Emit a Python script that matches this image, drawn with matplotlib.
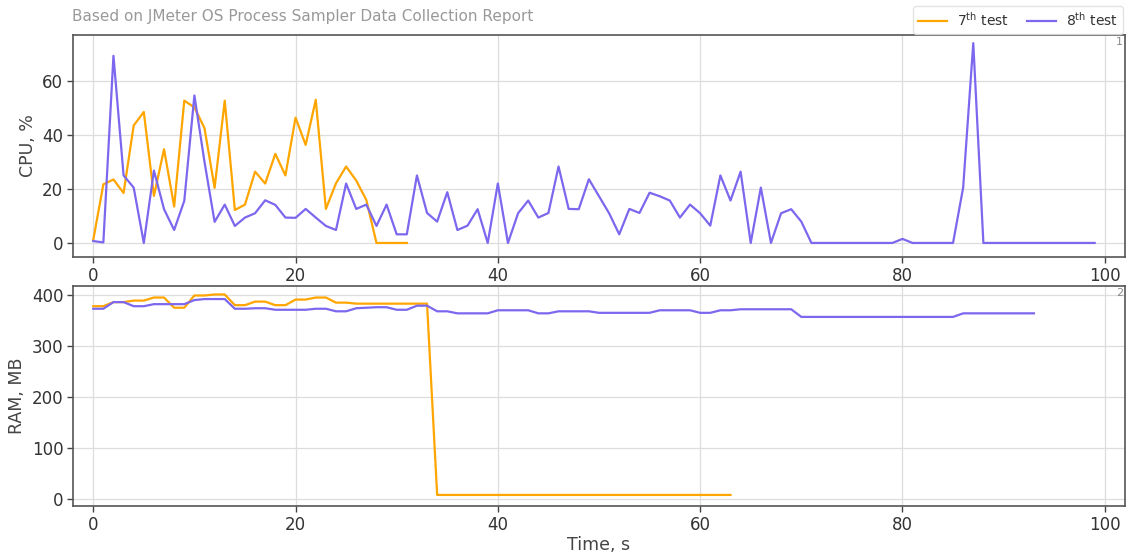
import matplotlib
matplotlib.use("Agg")
import matplotlib.pyplot as plt
import numpy as np

cpu_7 = [1.1, 21.7, 23.5, 18.5, 43.5, 48.5, 17.4, 34.7, 13.5, 52.7, 50.2, 42.5, 20.4, 52.7, 12.2, 14.2,
         26.4, 22.0, 33.0, 25.0, 46.4, 36.3, 53.0, 12.6, 22.1, 28.3, 23.1, 15.9, 0, 0, 0, 0]
cpu_8 = [0.7, 0.2, 69.3, 25.0, 20.5, 0, 26.8, 12.5, 4.8, 15.6, 54.6, 30.0, 7.8, 14.2, 6.3, 9.4,
         11.0, 15.8, 14.1, 9.4, 9.3, 12.6, 9.4, 6.3, 4.8, 22.0, 12.6, 14.2, 6.3, 14.2, 3.2, 3.2,
         25.0, 11.1, 7.9, 18.8, 4.8, 6.4, 12.5, 0, 22.0, 0, 11.0, 15.7, 9.4, 11.1, 28.3, 12.6,
         12.5, 23.6, 17.3, 11.0, 3.2, 12.6, 11.1, 18.6, 17.3, 15.7, 9.4, 14.2, 11.0, 6.4, 25.0, 15.7,
         26.4, 0, 20.5, 0, 11.0, 12.5, 7.9, 0, 0, 0, 0, 0, 0, 0, 0, 0,
         1.5, 0, 0, 0, 0, 0, 20.5, 74.0, 0, 0, 0, 0, 0, 0, 0, 0, 0, 0, 0, 0]
ram_7 = [378, 378, 386, 386, 389, 389, 395, 395, 375, 375, 399, 399, 401, 401, 380, 380,
         387, 387, 380, 380, 391, 391, 395, 395, 385, 385, 383, 383, 383, 383, 383, 383,
         383, 383] + [8] * 30
ram_8 = [373, 373, 386, 386, 378, 378, 382, 382, 382, 382, 390, 392, 392, 392, 373, 373,
         374, 374, 371, 371, 371, 371, 373, 373, 368, 368, 374, 375, 376, 376, 371, 371,
         379, 379, 368, 368, 364, 364, 364, 364, 370, 370, 370, 370, 364, 364, 368, 368,
         368, 368, 365, 365, 365, 365, 365, 365, 370, 370, 370, 370, 365, 365, 370, 370,
         372, 372, 372, 372, 372, 372, 357, 357, 357, 357, 357, 357, 357, 357, 357, 357,
         357, 357, 357, 357, 357, 357, 364, 364, 364, 364, 364, 364, 364, 364]

labels = [r"7$^{\rm th}$ test", r"8$^{\rm th}$ test"]
title = "Based on JMeter OS Process Sampler Data Collection Report"
c7 = "#FFA500"
c8 = "#7B68EE"

plt.rcParams['font.family'] = ['DejaVu Sans']
fig = plt.figure(figsize=(11.29, 5.55), dpi=100)
ax1 = fig.add_axes([73/1129, 1-257/555, 1052/1129, 222/555])
ax2 = fig.add_axes([73/1129, 1-506/555, 1052/1129, 220/555])

l7, = ax1.plot(np.arange(len(cpu_7)), cpu_7, color=c7, lw=1.6, label=labels[0])
l8, = ax1.plot(np.arange(len(cpu_8)), cpu_8, color=c8, lw=1.6, label=labels[1])
ax2.plot(np.arange(len(ram_7)), ram_7, color=c7, lw=1.6)
ax2.plot(np.arange(len(ram_8)), ram_8, color=c8, lw=1.6)

for ax, num in ((ax1, "1"), (ax2, "2")):
    ax.set_xlim(-2, 102)
    ax.set_xticks([0, 20, 40, 60, 80, 100])
    ax.grid(True, color="#dddddd", lw=0.9)
    ax.set_axisbelow(True)
    for s in ax.spines.values():
        s.set_color("#555555")
        s.set_linewidth(1.2)
    ax.tick_params(colors="#444444", labelsize=12, length=4, width=1, labelcolor="#333333", pad=3)
    ax.text(0.998, 0.99, num, transform=ax.transAxes, ha="right", va="top", fontsize=8, color="#888888")

ax1.set_ylim(-5.2, 77)
ax2.set_ylim(-13.7, 417.6)
ax1.set_yticks([0, 20, 40, 60])
ax2.set_yticks([0, 100, 200, 300, 400])
ax1.set_ylabel("CPU, %", fontsize=12.5, color="#444444", labelpad=4)
ax2.set_ylabel("RAM, MB", fontsize=12.5, color="#444444", labelpad=4)
ax2.set_xlabel("Time, s", fontsize=12.5, color="#444444", labelpad=2)

fig.text(72/1129, 1-17/555, title, ha="left", va="center", fontsize=11, color="#999999")
leg = fig.legend(handles=[l7, l8], loc="upper right", bbox_to_anchor=(1123/1129, 1-6/555), ncol=2,
                 fontsize=10, frameon=True, edgecolor="#dddddd", handlelength=2.1, columnspacing=1.3,
                 handletextpad=0.7, borderaxespad=0, borderpad=0.35)
for t in leg.get_texts():
    t.set_color("#333333")

fig.savefig("out.png", dpi=100)
